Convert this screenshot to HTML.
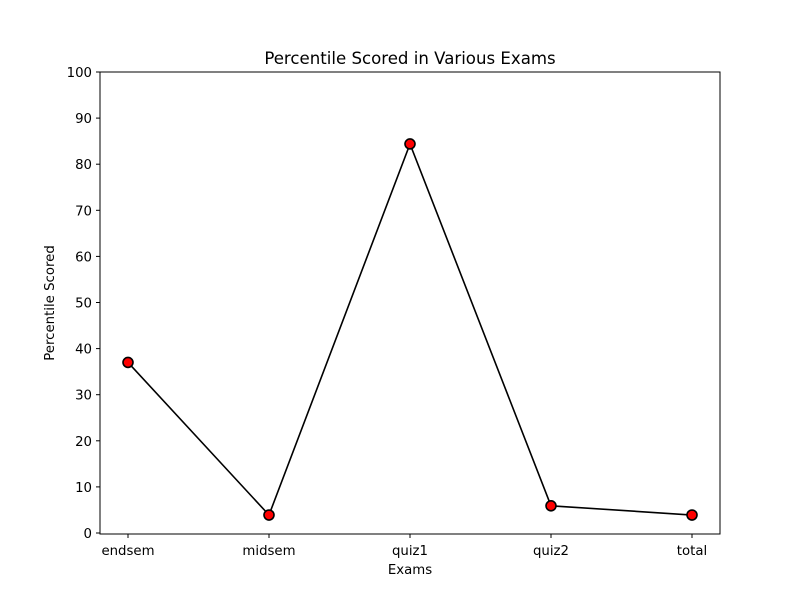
<!DOCTYPE html>
<html><head><meta charset="utf-8"><style>body{margin:0;background:#fff}svg{display:block;font-family:"DejaVu Sans","Liberation Sans",sans-serif}</style></head>
<body>
<svg id="chart" width="800" height="600">
<rect width="800" height="600" fill="#fff"/>
<text x="410" y="64" font-size="16.6" text-anchor="middle">Percentile Scored in Various Exams</text>
<text x="410" y="574" font-size="13.3" text-anchor="middle">Exams</text>
<text transform="translate(54,303) rotate(-90)" font-size="13.3" text-anchor="middle">Percentile Scored</text>
<g id="axes"></g>
<rect x="100" y="72" width="620" height="462" fill="none" stroke="#000" stroke-width="1"/>
</svg>
<script>
const categories=["endsem","midsem","quiz1","quiz2","total"];
const values=[37,3.9,84.4,5.9,3.9];
const yTicks=[0,10,20,30,40,50,60,70,80,90,100];
const NS="http://www.w3.org/2000/svg";
const g=document.getElementById('axes');
const x=i=>128+i*141;
const y=v=>533-v*4.61;
function el(t,a){const e=document.createElementNS(NS,t);for(const k in a)e.setAttribute(k,a[k]);g.appendChild(e);return e;}
yTicks.forEach(t=>{
 const l=el('line',{x1:96,x2:100,y1:y(t),y2:y(t),stroke:'#000'});
 
 
 const tx=el('text',{x:92,y:y(t)+5,'font-size':13.3,'text-anchor':'end'});tx.textContent=t;
 
 
});
categories.forEach((c,i)=>{
 const l=el('line',{x1:x(i),x2:x(i),y1:534,y2:538,stroke:'#000'});
 
 
 const tx=el('text',{x:x(i),y:555,'font-size':13.3,'text-anchor':'middle'});tx.textContent=c;
 
 
});
const p=el('polyline',{points:values.map((v,i)=>x(i)+','+y(v)).join(' '),fill:'none',stroke:'#000','stroke-width':1.6});


values.forEach((v,i)=>{
 const c=el('circle',{cx:x(i),cy:y(v),r:5,fill:'#ff0000',stroke:'#000','stroke-width':1.6});
 
 
});
</script>
</body></html>
